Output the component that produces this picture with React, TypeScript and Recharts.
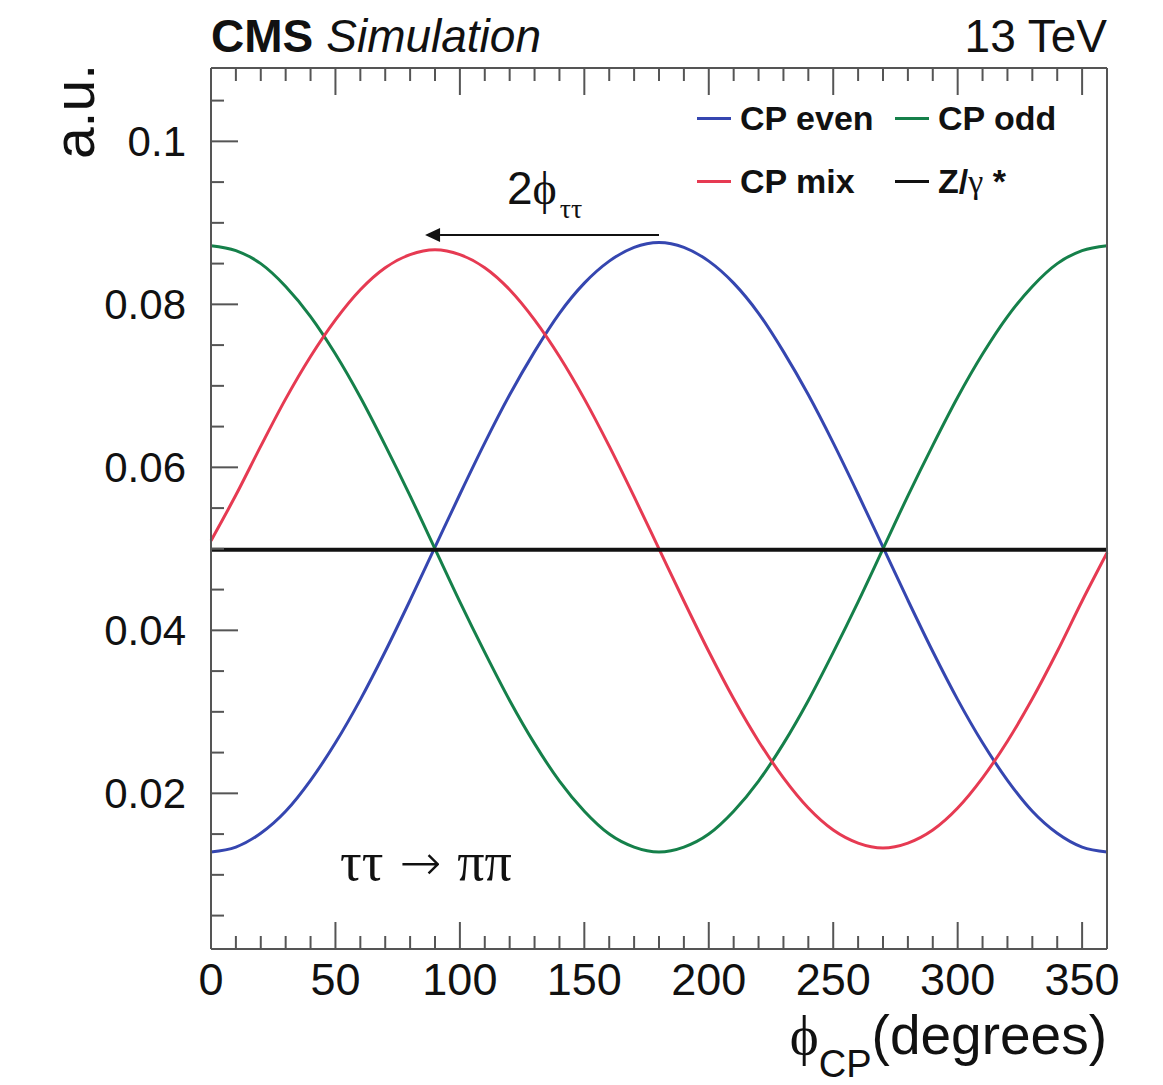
import React from "react";
import { LineChart, Line, XAxis, YAxis, Legend, ReferenceLine } from "recharts";

// phi_CP in degrees (a.u.)
const phi = [
  0, 10, 20, 30, 40, 50, 60, 70, 80, 90, 100, 110, 120, 130, 140, 150, 160, 170, 180,
  190, 200, 210, 220, 230, 240, 250, 260, 270, 280, 290, 300, 310, 320, 330, 340, 350, 360,
];
const cpEven = [
  0.0128, 0.0134, 0.0151, 0.0178, 0.0216, 0.0262, 0.0315, 0.0374, 0.0437, 0.0502,
  0.0567, 0.063, 0.0689, 0.0742, 0.0789, 0.0826, 0.0853, 0.087, 0.0876,
  0.087, 0.0853, 0.0826, 0.0789, 0.0742, 0.0689, 0.063, 0.0567, 0.0502,
  0.0437, 0.0374, 0.0315, 0.0262, 0.0216, 0.0178, 0.0151, 0.0134, 0.0128,
];
const cpOdd = [
  0.0872, 0.0866, 0.085, 0.0822, 0.0785, 0.0739, 0.0686, 0.0627, 0.0565, 0.05,
  0.0435, 0.0373, 0.0314, 0.0261, 0.0215, 0.0178, 0.015, 0.0134, 0.0128,
  0.0134, 0.015, 0.0178, 0.0215, 0.0261, 0.0314, 0.0373, 0.0435, 0.05,
  0.0565, 0.0627, 0.0686, 0.0739, 0.0785, 0.0822, 0.085, 0.0866, 0.0872,
];
const cpMix = [
  0.051, 0.0566, 0.0626, 0.0684, 0.0736, 0.0781, 0.0818, 0.0845, 0.0861, 0.0867,
  0.0861, 0.0845, 0.0818, 0.0781, 0.0736, 0.0684, 0.0626, 0.0564, 0.05,
  0.0436, 0.0374, 0.0316, 0.0264, 0.0219, 0.0182, 0.0155, 0.0139, 0.0133,
  0.0139, 0.0155, 0.0182, 0.0219, 0.0264, 0.0316, 0.0374, 0.0436, 0.0495,
];
const zGamma = [
  0.0499, 0.0499, 0.0499, 0.0499, 0.0499, 0.0499, 0.0499, 0.0499, 0.0499, 0.0499,
  0.0499, 0.0499, 0.0499, 0.0499, 0.0499, 0.0499, 0.0499, 0.0499, 0.0499,
  0.0499, 0.0499, 0.0499, 0.0499, 0.0499, 0.0499, 0.0499, 0.0499, 0.0499,
  0.0499, 0.0499, 0.0499, 0.0499, 0.0499, 0.0499, 0.0499, 0.0499, 0.0499,
];

const xTicks = [
  0, 10, 20, 30, 40, 50, 60, 70, 80, 90, 100, 110, 120, 130, 140, 150, 160, 170, 180,
  190, 200, 210, 220, 230, 240, 250, 260, 270, 280, 290, 300, 310, 320, 330, 340, 350, 360,
];
const xLabels = [0, 50, 100, 150, 200, 250, 300, 350];
const yTicks = [
  0.005, 0.01, 0.015, 0.02, 0.025, 0.03, 0.035, 0.04, 0.045, 0.05, 0.055,
  0.06, 0.065, 0.07, 0.075, 0.08, 0.085, 0.09, 0.095, 0.1, 0.105,
];
const yLabels = [0.02, 0.04, 0.06, 0.08, 0.1];
const yDomain = [0.0009, 0.109];

// the 2*phi_tautau arrow, from the CP even peak back to the CP mix peak
const arrowFrom = 180;
const arrowTo = 86;
const arrowY = 0.0885;

const series = [
  { key: "even", name: "CP even", color: "#3546b0", values: cpEven },
  { key: "odd", name: "CP odd", color: "#15804a", values: cpOdd },
  { key: "mix", name: "CP mix", color: "#e63a52", values: cpMix },
  { key: "z", name: "Z/γ *", color: "#111111", values: zGamma },
];

const data = phi.map((x, i) => {
  const row: Record<string, number> = { x };
  series.forEach((s) => (row[s.key] = s.values[i]));
  return row;
});

const SANS = "'Liberation Sans', Arial, Helvetica, sans-serif";
const SERIF = "'Liberation Serif', 'DejaVu Serif', serif";
const FRAME = "#555555";
const INK = "#111111";
const MAJOR = 27;
const MINOR = 13;

function XTick(props: any) {
  const { x, y, payload, side } = props;
  const major = xLabels.includes(payload.value);
  const len = major ? MAJOR : MINOR;
  const dir = side === "top" ? 1 : -1;
  return (
    <g>
      <line x1={x} y1={y} x2={x} y2={y + dir * len} stroke={FRAME} strokeWidth={2} />
      {side !== "top" && major && (
        <text x={x} y={y + 46} textAnchor="middle" fontFamily={SANS} fontSize={45} fill={INK}>
          {payload.value}
        </text>
      )}
    </g>
  );
}

function YTick(props: any) {
  const { x, y, payload, side } = props;
  const major = yLabels.some((v) => Math.abs(v - payload.value) < 1e-9);
  const len = major ? MAJOR : MINOR;
  const dir = side === "right" ? -1 : 1;
  return (
    <g>
      <line x1={x} y1={y} x2={x + dir * len} y2={y} stroke={FRAME} strokeWidth={2} />
      {side !== "right" && major && (
        <text x={x - 25} y={y + 15} textAnchor="end" fontFamily={SANS} fontSize={42} fill={INK}>
          {String(payload.value)}
        </text>
      )}
    </g>
  );
}

function Arrow(props: any) {
  const { x1, y1, x2, y2 } = props;
  const head = 15;
  return (
    <g>
      <line x1={x1} y1={y1} x2={x2 + head} y2={y2} stroke={INK} strokeWidth={2} />
      <polygon points={`${x2},${y2} ${x2 + head},${y2 - 7} ${x2 + head},${y2 + 7}`} fill={INK} />
    </g>
  );
}

const renderLegend = () => (
  <div
    style={{
      display: "grid",
      gridTemplateColumns: "198px 180px",
      rowGap: 23,
      fontFamily: SANS,
      fontWeight: "bold",
      fontSize: 34,
      color: INK,
    }}
  >
    {series.map((s) => (
      <div key={s.key} style={{ display: "flex", alignItems: "center", height: 40, whiteSpace: "nowrap" }}>
        <span style={{ display: "inline-block", width: 34, height: 3, background: s.color, marginRight: 9 }} />
        {s.key === "z" ? (
          <span>
            Z/<span style={{ fontFamily: SERIF, fontWeight: "normal" }}>γ</span> *
          </span>
        ) : (
          <span>{s.name}</span>
        )}
      </div>
    ))}
  </div>
);

// axes need a 1px band or recharts skips them, so margins are 1px short of the frame
const axisCommon = {
  type: "number" as const,
  interval: 0 as const,
  tickSize: 0,
  tickMargin: 0,
  tickLine: false,
  axisLine: { stroke: FRAME, strokeWidth: 2 },
};

export default function App() {
  return (
    <div style={{ position: "absolute", left: 0, top: 0, width: 1163, height: 1085, background: "#fff" }}>
      <LineChart
        width={1163}
        height={1085}
        data={data}
        margin={{ top: 67, right: 55, bottom: 135, left: 210 }}
      >
        <XAxis
          {...axisCommon}
          xAxisId="b"
          dataKey="x"
          domain={[0, 360]}
          ticks={xTicks}
          height={1}
          tick={<XTick side="bottom" />}
        />
        <XAxis
          {...axisCommon}
          xAxisId="t"
          orientation="top"
          dataKey="x"
          domain={[0, 360]}
          ticks={xTicks}
          height={1}
          tick={<XTick side="top" />}
        />
        <YAxis
          {...axisCommon}
          yAxisId="l"
          domain={yDomain}
          ticks={yTicks}
          width={1}
          tick={<YTick side="left" />}
        />
        <YAxis
          {...axisCommon}
          yAxisId="r"
          orientation="right"
          domain={yDomain}
          ticks={yTicks}
          width={1}
          tick={<YTick side="right" />}
        />
        {series.map((s) => (
          <Line
            key={s.key}
            xAxisId="b"
            yAxisId="l"
            dataKey={s.key}
            name={s.name}
            type="monotone"
            stroke={s.color}
            strokeWidth={s.key === "z" ? 4 : 3}
            dot={false}
            activeDot={false}
            isAnimationActive={false}
          />
        ))}
        <ReferenceLine
          xAxisId="b"
          yAxisId="l"
          segment={[
            { x: arrowFrom, y: arrowY },
            { x: arrowTo, y: arrowY },
          ]}
          shape={Arrow}
          ifOverflow="visible"
        />
        <Legend
          layout="horizontal"
          verticalAlign="middle"
          align="center"
          content={renderLegend}
          wrapperStyle={{ position: "absolute", left: 697, top: 98, width: 400, height: 110 }}
        />
      </LineChart>

      <svg
        width={1163}
        height={1085}
        style={{ position: "absolute", left: 0, top: 0, pointerEvents: "none" }}
      >
        <text x={211} y={52} fontFamily={SANS} fontSize={46} fill={INK}>
          <tspan fontWeight="bold">CMS</tspan>
          <tspan fontStyle="italic" dx={13}>Simulation</tspan>
        </text>
        <text x={1107} y={52} textAnchor="end" fontFamily={SANS} fontSize={46} fill={INK}>
          13 TeV
        </text>
        <text
          x={94}
          y={64}
          transform="rotate(-90 94 64)"
          textAnchor="end"
          fontFamily={SANS}
          fontSize={57}
          fill={INK}
        >
          a.u.
        </text>
        <text x={1107} y={1054} textAnchor="end" fontFamily={SANS} fontSize={55} fill={INK}>
          <tspan fontFamily={SERIF}>ϕ</tspan>
          <tspan fontSize={38} dy={23}>CP</tspan>
          <tspan dy={-23}>(degrees)</tspan>
        </text>
        <text x={507} y={204} fontFamily={SANS} fontSize={46} fill={INK}>
          2<tspan fontFamily={SERIF}>ϕ</tspan>
          <tspan fontFamily={SERIF} fontSize={28} dx={3} dy={14}>ττ</tspan>
        </text>
        <text x={340} y={880} fontFamily={SERIF} fontSize={54} fill={INK}>
          ττ
          <tspan fontFamily="'DejaVu Sans', sans-serif" fontSize={50} fontWeight={300} dx={16}>→</tspan>
          <tspan dx={16}>ππ</tspan>
        </text>
      </svg>
    </div>
  );
}
